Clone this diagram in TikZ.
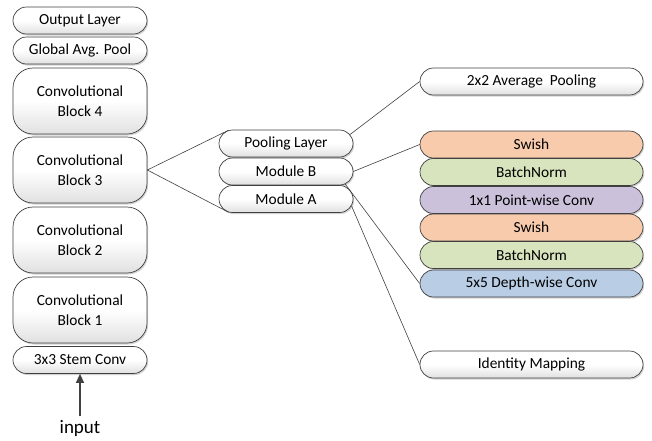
\documentclass[tikz,border=0pt]{standalone}
\usepackage{fontspec}
\setmainfont{Carlito}
\usetikzlibrary{shapes.misc,shadows,arrows.meta}
\definecolor{edge}{HTML}{404040}
\definecolor{cswish}{HTML}{F8CBAD}
\definecolor{cbn}{HTML}{D7E4BD}
\definecolor{cpw}{HTML}{CCC1DA}
\definecolor{cdw}{HTML}{B9CDE5}
\tikzset{
  base/.style={draw=edge, line width=0.7pt, align=center, inner sep=0pt,
    font=\fontsize{15.4}{19.5}\selectfont, text=black,
    drop shadow={fill=black!35, shadow xshift=1.2pt, shadow yshift=-1.5pt}},
  pill/.style={base, rounded rectangle, minimum height=27pt},
  whitefill/.style={top color=white, bottom color=black!12, middle color=white},
  lbox/.style={pill, whitefill, minimum width=134pt},
  bigbox/.style={base, whitefill, rectangle, rounded corners=20pt, minimum width=134pt, minimum height=66pt},
  rbox/.style={pill, minimum width=223pt},
  link/.style={draw=edge, line width=0.6pt},
}
\begin{document}
\begin{tikzpicture}[x=1pt,y=-1pt]
\useasboundingbox (0,0) rectangle (652,440);
% left column
\node[lbox] (out) at (80,20.5) {Output Layer};
\node[lbox] (gap) at (80,50.5) {Global Avg. Pool};
\node[bigbox] (b4) at (80,101) {Convolutional\\Block 4};
\node[bigbox] (b3) at (80,170) {Convolutional\\Block 3};
\node[bigbox] (b2) at (80,240) {Convolutional\\Block 2};
\node[bigbox] (b1) at (80,310) {Convolutional\\Block 1};
\node[lbox] (stem) at (80,360) {3x3 Stem Conv};
\node[font=\fontsize{19}{22}\selectfont] (inp) at (80,428) {input};
% middle column
\node[lbox] (pool) at (286,143.5) {Pooling Layer};
\node[lbox] (modb) at (286,171.5) {Module B};
\node[lbox] (moda) at (286,199) {Module A};
% right column
\node[rbox, whitefill] (avg) at (531.5,81.5) {2x2 Average\ \ Pooling};
\node[rbox, fill=cswish] (sw1) at (531.5,144.5) {Swish};
\node[rbox, fill=cbn] (bn1) at (531.5,172) {BatchNorm};
\node[rbox, fill=cpw] (pw) at (531.5,200) {1x1 Point-wise Conv};
\node[rbox, fill=cswish] (sw2) at (531.5,227.5) {Swish};
\node[rbox, fill=cbn] (bn2) at (531.5,255) {BatchNorm};
\node[rbox, fill=cdw] (dw) at (531.5,283.5) {5x5 Depth-wise Conv};
\node[rbox, whitefill] (ident) at (531.5,364.5) {Identity Mapping};
% connectors
\draw[link] (b3.east) -- (pool.167);
\draw[link] (b3.east) -- (moda.193);
\draw[link] (pool.8) -- (avg.west);
\draw[link] (modb.east) -- (sw1.west);
\draw[link] (modb.-12) -- (dw.west);
\draw[link] (moda.-6) -- (ident.west);
\draw[draw=edge, line width=1.3pt, -{Triangle[length=9pt,width=8pt]}] (inp.north) -- (stem.south);
\end{tikzpicture}
\end{document}
